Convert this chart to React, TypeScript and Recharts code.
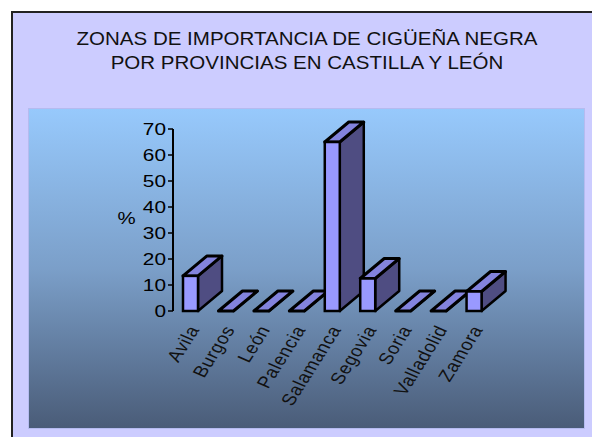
import { BarChart, Bar, XAxis, YAxis } from 'recharts';

// Zonas de importancia de cigüeña negra (%), por provincia
const provincias = ['Avila', 'Burgos', 'León', 'Palencia', 'Salamanca', 'Segovia', 'Soria', 'Valladolid', 'Zamora'];
const porcentajes = [13.5, 0, 0, 0, 65, 12.5, 0, 0, 7.5];
const yTicks = [0, 10, 20, 30, 40, 50, 60, 70];

const data = provincias.map((provincia, i) => ({ provincia, valor: porcentajes[i] }));

// depth of the fake 3D columns
const DX = 24;
const DY = 20;
const FONT = '"Liberation Sans", Arial, sans-serif';

function Bar3D(props: any) {
  const { x, y, width: w, height: h } = props;
  const side = `${x + w},${y} ${x + w + DX},${y - DY} ${x + w + DX},${y + h - DY} ${x + w},${y + h}`;
  const top = `${x},${y} ${x + DX},${y - DY} ${x + w + DX},${y - DY} ${x + w},${y}`;
  return (
    <g>
      <polygon points={side} fill="#4f4d82" stroke="#000" strokeWidth={2.5} strokeLinejoin="round" />
      <polygon points={top} fill="#8383dd" stroke="#000" strokeWidth={3} strokeLinejoin="round" />
      <rect x={x} y={y} width={w} height={h} fill="#9999ff" stroke="#000" strokeWidth={2.5} />
    </g>
  );
}

function YTick(props: any) {
  const { x, y, payload } = props;
  return (
    <g transform={`translate(${x},${y}) scale(1.3,1)`}>
      <text x={0} y={0} dy="0.36em" textAnchor="end" fontSize={16} fontFamily={FONT} fill="#000">
        {payload.value}
      </text>
    </g>
  );
}

function XTick(props: any) {
  const { x, y, payload } = props;
  return (
    <g transform={`translate(${x + 4},${y + 8}) scale(1.2,1) rotate(-62)`}>
      <text x={0} y={0} dy="0.3em" textAnchor="end" fontSize={16.5} fontFamily={FONT} fill="#111" letterSpacing={0.6}>
        {payload.value}
      </text>
    </g>
  );
}

export default function App() {
  return (
    <div style={{ position: 'absolute', left: 0, top: 0, width: 592, height: 437, overflow: 'hidden', background: '#fff' }}>
      <div
        style={{
          position: 'absolute',
          left: 11,
          top: 11,
          width: 600,
          height: 440,
          background: '#ccccff',
          border: '2px solid #222',
          boxSizing: 'border-box',
        }}
      />
      <div
        style={{
          position: 'absolute',
          left: 0,
          top: 27,
          width: 614,
          textAlign: 'center',
          fontFamily: FONT,
          fontSize: 18,
          lineHeight: '24px',
          color: '#111',
          transform: 'scaleX(1.14)',
        }}
      >
        ZONAS DE IMPORTANCIA DE CIGÜEÑA NEGRA
        <br />
        POR PROVINCIAS EN CASTILLA Y LEÓN
      </div>
      <div
        style={{
          position: 'absolute',
          left: 29,
          top: 109,
          width: 555,
          height: 319,
          background: 'linear-gradient(to bottom, #97c9fc 0%, #7b9fc9 50%, #4a5c78 100%)',
          boxShadow: '0 0 0 1px #b5bbf0',
        }}
      >
        <div
          style={{
            position: 'absolute',
            left: 90,
            top: 100,
            fontFamily: FONT,
            fontSize: 17,
            transform: 'scaleX(1.2)',
            color: '#000',
          }}
        >
          %
        </div>
        <BarChart
          width={555}
          height={319}
          data={data}
          margin={{ top: 20, right: 92, left: 0, bottom: 0 }}
          barSize={15}
        >
          <YAxis
            width={144}
            domain={[0, 70]}
            ticks={yTicks}
            interval={0}
            tick={<YTick />}
            tickSize={5}
            tickMargin={2}
            axisLine={{ stroke: '#000', strokeWidth: 2 }}
            tickLine={{ stroke: '#000', strokeWidth: 1.5 }}
          />
          <XAxis
            dataKey="provincia"
            height={117}
            interval={0}
            axisLine={false}
            tickLine={false}
            tick={<XTick />}
          />
          <Bar dataKey="valor" shape={<Bar3D />} isAnimationActive={false} />
        </BarChart>
      </div>
    </div>
  );
}
